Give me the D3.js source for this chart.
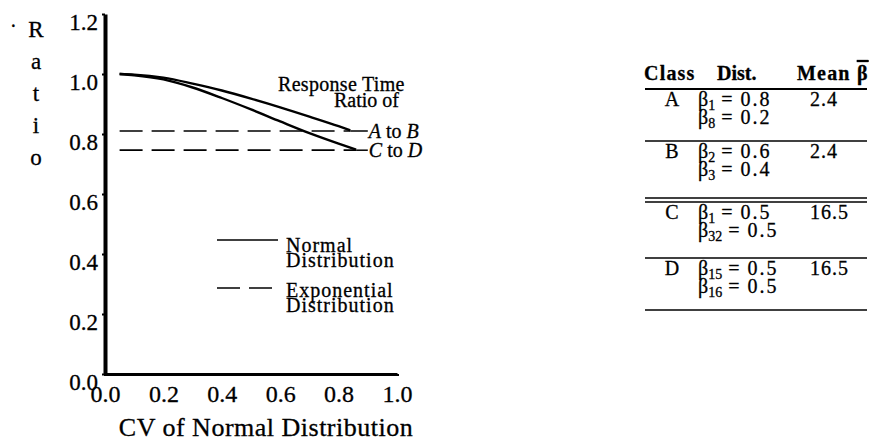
<!DOCTYPE html>
<html><head><meta charset="utf-8">
<script src="https://cdn.jsdelivr.net/npm/d3@7"></script>
<style>
html,body{margin:0;padding:0;background:#fff;}
svg{display:block;font-family:"Liberation Serif","Times New Roman",serif;}
svg text{fill:#000;stroke:#000;stroke-width:0.3px;}
</style></head>
<body><svg id="c" width="870" height="444"></svg>
<script>
// ---- data ----
const xTicks = [0, 0.2, 0.4, 0.6, 0.8, 1.0];
const yTicks = [0, 0.2, 0.4, 0.6, 0.8, 1.0, 1.2];
const cvAB = [0.05, 0.1, 0.2, 0.3, 0.4, 0.5, 0.6, 0.7, 0.8, 0.84];
const normalAB = [1.0, 0.998, 0.988, 0.968, 0.945, 0.918, 0.889, 0.858, 0.826, 0.812];
const cvCD = [0.05, 0.1, 0.2, 0.3, 0.4, 0.5, 0.6, 0.7, 0.8, 0.86];
const normalCD = [1.0, 0.996, 0.982, 0.955, 0.92, 0.882, 0.842, 0.803, 0.768, 0.748];
const expoAB = 0.81, expoCD = 0.746;
const expoRange = [0.05, 0.84];
const expoRangeCD = [0.05, 0.86];
const pairLabels = [["A", " to ", "B"], ["C", " to ", "D"]];
const yTitle = ["R", "a", "t", "i", "o"];
const xTitle = "CV of Normal Distribution";
const noteLines = ["Response Time", "Ratio of"];
const legendLabels = [["Normal", "Distribution"], ["Exponential", "Distribution"]];
const tableHead = ["Class", "Dist.", "Mean "];
const classes = ["A", "B", "C", "D"];
const distSub = [["1", "8"], ["2", "3"], ["1", "32"], ["15", "16"]];
const distVal = [["0.8", "0.2"], ["0.6", "0.4"], ["0.5", "0.5"], ["0.5", "0.5"]];
const means = ["2.4", "2.4", "16.5", "16.5"];

// ---- chart ----
const svg = d3.select("#c");
const x = d3.scaleLinear().domain([0, 1]).range([105, 397]);
const y = d3.scaleLinear().domain([0, 1.2]).range([374, 14]);

const yAx = svg.append("g").attr("transform", "translate(105,0)")
  .call(d3.axisLeft(y).tickValues(yTicks).tickFormat(d3.format(".1f")).tickSize(3).tickSizeOuter(0).tickPadding(4));
yAx.select(".domain").attr("stroke-width", 4).attr("stroke", "#000");
yAx.selectAll(".tick line").attr("stroke-width", 2);
yAx.selectAll("text").attr("font-size", 23).attr("font-family", "Liberation Serif").attr("dy", "0.66em");

const xAx = svg.append("g").attr("transform", "translate(0,374)")
  .call(d3.axisBottom(x).tickValues(xTicks).tickFormat(d3.format(".1f")).tickSize(2).tickSizeOuter(0).tickPadding(9));
xAx.select(".domain").attr("stroke-width", 3).attr("stroke", "#000");
xAx.selectAll(".tick line").attr("stroke-width", 3);
xAx.selectAll("text").attr("font-size", 24).attr("font-family", "Liberation Serif");

// y title
svg.append("text").attr("x", 10).attr("y", 33).attr("font-size", 20).text("·");
svg.selectAll(".yt").data(yTitle).enter().append("text")
  .attr("x", 36).attr("y", (d, i) => 37 + i * 32).attr("text-anchor", "middle")
  .attr("font-size", 23).text(d => d);
// x title
svg.append("text").attr("x", 266).attr("y", 436).attr("text-anchor", "middle")
  .attr("font-size", 26).attr("letter-spacing", 0.5).text(xTitle);

// curves
const line = d3.line().x(d => x(d[0])).y(d => y(d[1])).curve(d3.curveMonotoneX);
svg.append("path").datum(cvAB.map((c, i) => [c, normalAB[i]])).attr("d", line)
  .attr("fill", "none").attr("stroke", "#000").attr("stroke-width", 2.4);
svg.append("path").datum(cvCD.map((c, i) => [c, normalCD[i]])).attr("d", line)
  .attr("fill", "none").attr("stroke", "#000").attr("stroke-width", 2.4);
// exponential
[[expoAB, expoRange], [expoCD, expoRangeCD]].forEach(([v, r]) => {
  svg.append("line").attr("x1", x(r[0])).attr("x2", x(r[1])).attr("y1", y(v)).attr("y2", y(v))
    .attr("stroke", "#000").attr("stroke-width", 1.7).attr("stroke-dasharray", "23,9");
  svg.append("line").attr("x1", x(r[1])).attr("x2", x(0.9)).attr("y1", y(v)).attr("y2", y(v))
    .attr("stroke", "#000").attr("stroke-width", 1.5);
});
// pair labels
[expoAB, expoCD].forEach((v, i) => {
  const t = svg.append("text").attr("x", x(0.9) + 1).attr("y", y(v) + 7).attr("font-size", 20);
  t.append("tspan").attr("font-style", "italic").text(pairLabels[i][0]);
  t.append("tspan").text(pairLabels[i][1]);
  t.append("tspan").attr("font-style", "italic").text(pairLabels[i][2]);
});
// note
svg.append("text").attr("x", 278).attr("y", 91).attr("font-size", 20).attr("letter-spacing", 0.3).text(noteLines[0]);
svg.append("text").attr("x", 399).attr("y", 107).attr("text-anchor", "end").attr("font-size", 20).text(noteLines[1]);

// legend
svg.append("line").attr("x1", 217).attr("x2", 278).attr("y1", 240).attr("y2", 240).attr("stroke", "#000").attr("stroke-width", 1.5);
svg.append("line").attr("x1", 217).attr("x2", 276).attr("y1", 288).attr("y2", 288).attr("stroke", "#000").attr("stroke-width", 1.5).attr("stroke-dasharray", "23,9");
legendLabels.forEach((ls, i) => {
  ls.forEach((s, j) => {
    svg.append("text").attr("x", 286).attr("y", [252, 297][i] + j * 15).attr("font-size", 20)
      .attr("letter-spacing", 1).text(s);
  });
});

// ---- table ----
const tb = svg.append("g").attr("font-size", 20);
const hx = [644, 717, 797];
tableHead.forEach((h, i) => {
  const t = tb.append("text").attr("x", hx[i]).attr("y", 80).attr("font-weight", "bold")
    .attr("letter-spacing", i === 1 ? 0 : 1.2).text(h);
  if (i === 2) t.append("tspan").attr("text-decoration", "overline").text("β");
});
const rules = [89, 141, 202, 258, 310];
rules.forEach((r, i) => tb.append("line").attr("x1", 645).attr("x2", 867).attr("y1", r).attr("y2", r)
  .attr("stroke", "#000").attr("stroke-width", i === 0 ? 2 : 1.6));
tb.append("line").attr("x1", 645).attr("x2", 867).attr("y1", 198).attr("y2", 198).attr("stroke", "#000").attr("stroke-width", 1.6);
classes.forEach((c, i) => {
  const top = rules[i];
  tb.append("text").attr("x", 672).attr("y", top + 17).attr("text-anchor", "middle").text(c);
  [0, 1].forEach(j => {
    const t = tb.append("text").attr("x", 698).attr("y", top + 17 + j * 18);
    t.append("tspan").text("β");
    t.append("tspan").attr("font-size", 14).attr("dy", 4).text(distSub[i][j]);
    t.append("tspan").attr("dy", -4).attr("dx", 6).text("=");
    t.append("tspan").attr("dx", 8).attr("letter-spacing", 2).text(distVal[i][j]);
  });
  tb.append("text").attr("x", 810).attr("y", top + 17).attr("letter-spacing", 1).text(means[i]);
});
</script></body></html>
